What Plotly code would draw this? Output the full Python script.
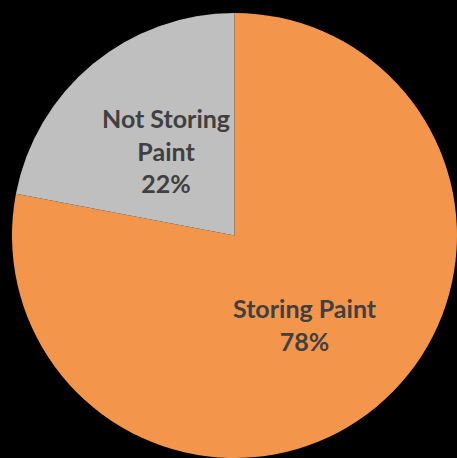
import plotly.graph_objects as go

labels = ["Storing Paint", "Not Storing Paint"]
values = [78, 22]
label_lines = [["Storing Paint"], ["Not Storing", "Paint"]]
colors = ["#F3964B", "#BFBFBF"]

fig = go.Figure(go.Pie(
    labels=labels, values=values, sort=False, direction="clockwise", rotation=0,
    marker=dict(colors=colors, line=dict(width=0)),
    textinfo="none", hoverinfo="label+percent", showlegend=False,
    domain=dict(x=[12/457, 1.0], y=[0.0, 1 - 13/458]),
))

ann_pos = [(305, 324), (166, 151)]
for lines, v, (px, py) in zip(label_lines, values, ann_pos):
    txt = "<br>".join(lines + [f"{v}%"])
    fig.add_annotation(
        x=px / 457, y=1 - py / 458, xref="paper", yref="paper",
        text=txt, showarrow=False, align="center",
        font=dict(family="Lato", size=25, color="#404040", weight="bold"),
        xanchor="center", yanchor="middle",
    )

fig.update_layout(
    width=457, height=458, margin=dict(l=0, r=0, t=0, b=0),
    paper_bgcolor="#000000", plot_bgcolor="#000000",
)
fig.write_html("out.html", config={"displayModeBar": False},
               post_script="document.body.style.margin='0';document.body.style.background='#000';")
